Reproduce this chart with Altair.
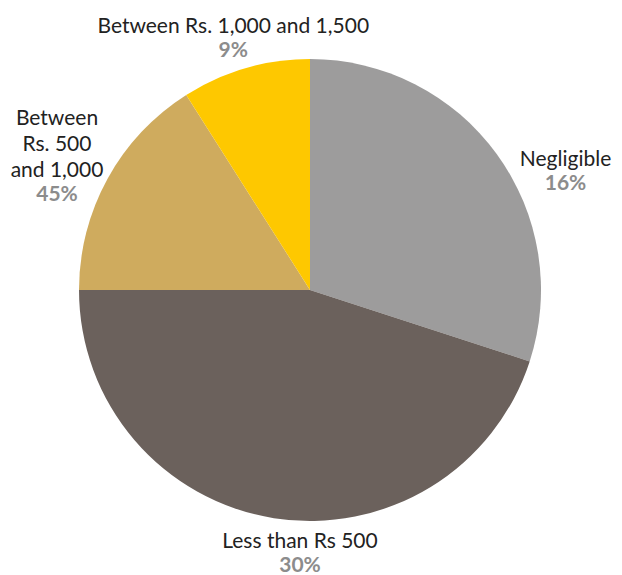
import altair as alt
import pandas as pd

categories = ["Negligible", "Less than Rs 500", "Between Rs 500 and 1,000", "Between Rs 1,000 and 1,500"]
values = [30, 45, 16, 9]
label_lines = [["Negligible"], ["Less than Rs 500"], ["Between", "Rs. 500", "and 1,000"], ["Between Rs. 1,000 and 1,500"]]
pct_labels = ["16%", "30%", "45%", "9%"]
colors = ["#9d9c9c", "#6b615c", "#cfab5e", "#fec800"]

df = pd.DataFrame({
    "cat": categories,
    "value": values,
    "order": list(range(len(categories))),
    "label": label_lines,
    "pct": pct_labels,
})

total = sum(values)
R_OUT = 231
R_LBL = 275
LINE_H = 26
# (dx, dy) of the label/percent anchor relative to the slice's mid-angle point
offsets = {
    "Negligible": (33, 42),
    "Less than Rs 500": (33, -10),
    "Between Rs 500 and 1,000": (-12, 23),
    "Between Rs 1,000 and 1,500": (0, 11),
}

theta_scale = alt.Scale(domain=[0, total])

pie = alt.Chart(df).mark_arc(outerRadius=R_OUT).encode(
    theta=alt.Theta("value:Q", stack=True, scale=theta_scale),
    order=alt.Order("order:Q"),
    color=alt.Color("cat:N", scale=alt.Scale(domain=categories, range=colors), legend=None),
)

text_base = alt.Chart(df).transform_window(
    cum="sum(value)", sort=[alt.SortField("order")]
).transform_calculate(
    mid="datum.cum - datum.value / 2"
).encode(
    theta=alt.Theta("mid:Q", stack=False, scale=theta_scale),
)

layers = [pie]
for c, lines in zip(categories, label_lines):
    dx, dy = offsets[c]
    n_extra = len(lines) - 1
    lab = text_base.mark_text(
        radius=R_LBL, dx=dx, dy=dy - n_extra * LINE_H, font="Lato", fontSize=21,
        color="#222222", align="center", baseline="bottom", lineHeight=LINE_H,
    ).encode(text="label:N").transform_filter(alt.datum.cat == c)
    pct = text_base.mark_text(
        radius=R_LBL, dx=dx, dy=dy + 3, font="Lato", fontSize=21, fontWeight="bold",
        color="#8c8c8c", align="center", baseline="top",
    ).encode(text="pct:N").transform_filter(alt.datum.cat == c)
    layers += [lab, pct]

chart = alt.layer(*layers).properties(
    width=604, height=564,
    autosize=alt.AutoSizeParams(type="none"),
    padding={"left": 0, "top": 0, "right": 2, "bottom": 3},
).configure_view(stroke=None)

chart.save("out.html", embed_options={"renderer": "svg", "actions": False})
